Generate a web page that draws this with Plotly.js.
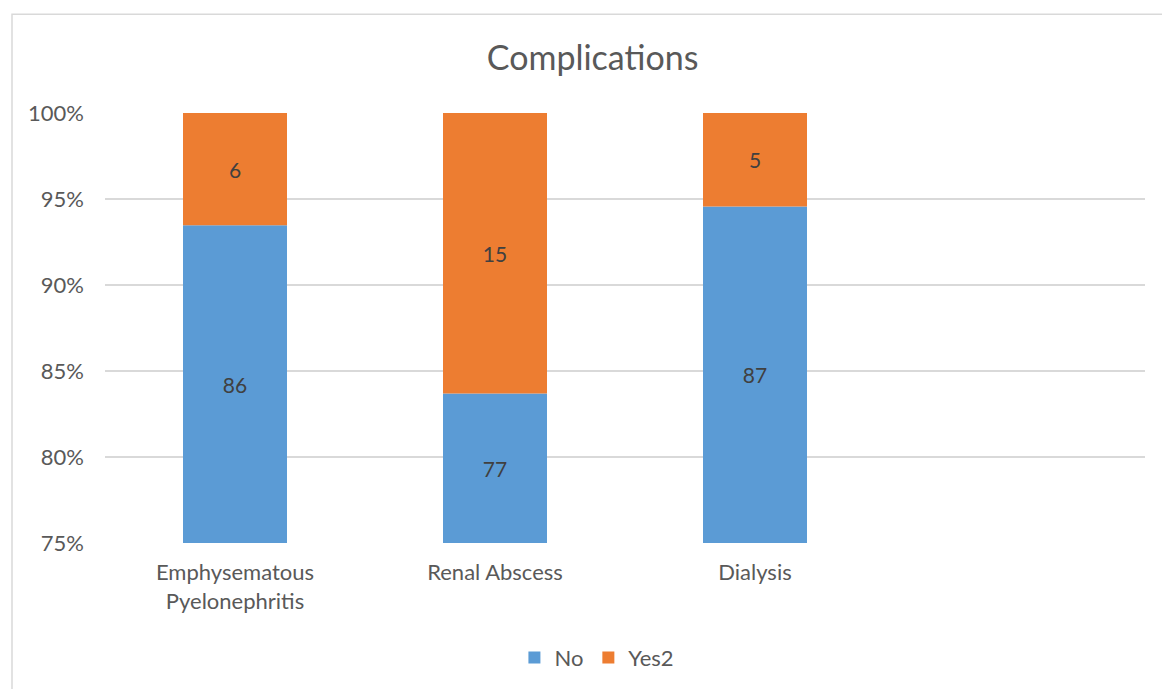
<!DOCTYPE html>
<html>
<head>
<meta charset="utf-8">
<script src="https://cdn.plot.ly/plotly-3.0.1.min.js"></script>
<style>html,body{margin:0;padding:0;background:#fff;}#chart{width:1162px;height:689px;}</style>
</head>
<body>
<div id="chart"></div>
<script>
const categories = ["Emphysematous<br>Pyelonephritis", "Renal Abscess", "Dialysis"];
const noValues = [86, 77, 87];
const yesValues = [6, 15, 5];
const seriesNames = ["No", "Yes2"];
const yTicks = [75, 80, 85, 90, 95, 100];

const totals = noValues.map((v, i) => v + yesValues[i]);
const noPct = noValues.map((v, i) => v / totals[i] * 100);
const yesPct = yesValues.map((v, i) => v / totals[i] * 100);
const axisMin = yTicks[0];

const font = "Lato, 'Open Sans', sans-serif";

const traces = [
  {
    type: "bar", name: seriesNames[0], x: categories,
    base: noPct.map(() => axisMin), y: noPct.map(p => p - axisMin),
    text: noValues.map(String), textposition: "inside", insidetextanchor: "middle",
    textfont: {family: font, size: 21, color: "#404040"},
    marker: {color: "#5B9BD5"}, width: 0.4, hoverinfo: "skip"
  },
  {
    type: "bar", name: seriesNames[1], x: categories,
    base: noPct, y: yesPct,
    text: yesValues.map(String), textposition: "inside", insidetextanchor: "middle",
    textfont: {family: font, size: 21, color: "#404040"},
    marker: {color: "#ED7D31"}, width: 0.4, hoverinfo: "skip"
  }
];

const layout = {
  width: 1162, height: 689,
  margin: {l: 105, r: 17, t: 113, b: 145},
  paper_bgcolor: "#fff", plot_bgcolor: "#fff",
  barmode: "overlay",
  font: {family: font, color: "#595959"},
  title: {text: "Complications", font: {family: font, size: 34, color: "#595959"},
          x: 0.51, xref: "container", y: 1 - 58/689, yref: "container", yanchor: "middle"},
  xaxis: {type: "category", range: [-0.5, 3.5], showgrid: false, zeroline: false,
          showline: false, ticks: "", tickfont: {family: font, size: 22, color: "#595959"},
          ticklabelstandoff: 14, fixedrange: true},
  yaxis: {range: [75, 100], tickvals: yTicks, ticktext: yTicks.map(t => t + "%"),
          showgrid: true, gridcolor: "#D9D9D9", gridwidth: 1.5, zeroline: false, showline: false,
          ticks: "", tickfont: {family: font, size: 22, color: "#595959"},
          ticklabelstandoff: 20, fixedrange: true},
  showlegend: true,
  legend: {orientation: "h", x: 0.473, xanchor: "center", y: -0.264, yanchor: "middle",
           font: {family: font, size: 22, color: "#595959"}, traceorder: "normal",
           itemwidth: 30, bgcolor: "rgba(0,0,0,0)"},
  shapes: [
    {type: "rect", xref: "paper", yref: "paper", x0: -93/1040, x1: 1.05, y0: -0.4, y1: 1 + 99/431,
     line: {color: "#D9D9D9", width: 1.5}, fillcolor: "rgba(0,0,0,0)", layer: "below"}
  ]
};

Plotly.newPlot("chart", traces, layout, {displayModeBar: false, staticPlot: true});
</script>
</body>
</html>
